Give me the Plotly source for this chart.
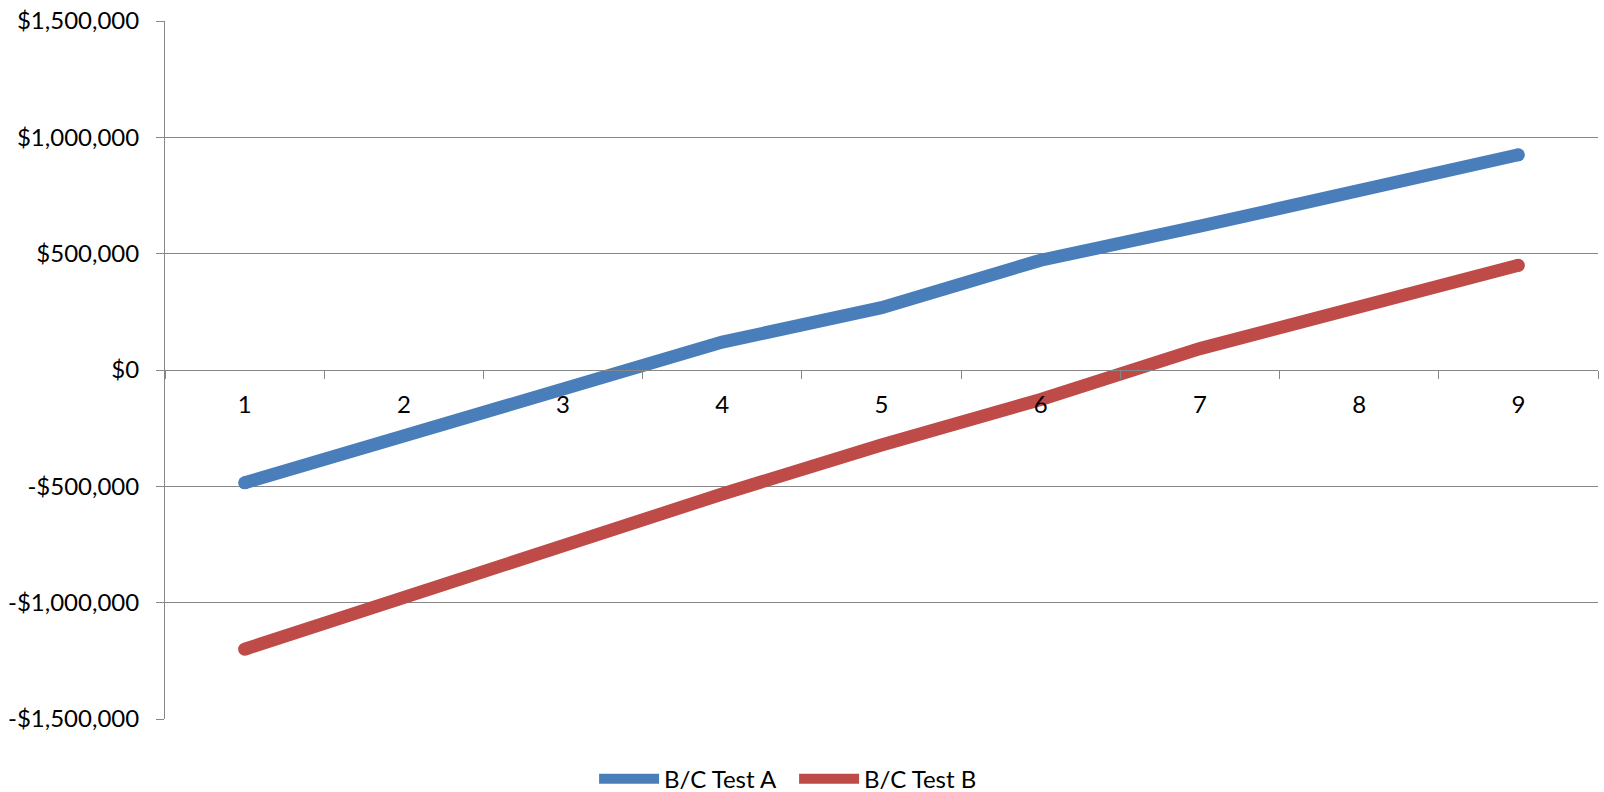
import plotly.graph_objects as go

# Period labels on the category axis
periods = ["1", "2", "3", "4", "5", "6", "7", "8", "9"]

# Cumulative benefit/cost per period, in dollars
test_a = [-485000, -285000, -92000, 120000, 268000, 472000, 618000, 768000, 925000]
test_b = [-1200000, -973000, -760000, -533000, -322000, -127000, 92000, 273000, 450000]

y_ticks = [-1500000, -1000000, -500000, 0, 500000, 1000000, 1500000]
y_tick_text = ["-$1,500,000", "-$1,000,000", "-$500,000", "$0",
               "$500,000", "$1,000,000", "$1,500,000"]

FONT = "Lato, 'Open Sans', sans-serif"
GRID = "#878787"
LW = 13

fig = go.Figure()
for name, values, color in [("B/C Test A", test_a, "#4A7EBB"),
                            ("B/C Test B", test_b, "#BE4B48")]:
    fig.add_trace(go.Scatter(
        x=periods, y=values, mode="lines", name=name,
        line=dict(color=color, width=LW),
    ))
    # round caps at both ends of the line
    fig.add_trace(go.Scatter(
        x=[periods[0], periods[-1]], y=[values[0], values[-1]],
        mode="markers", showlegend=False, hoverinfo="skip",
        marker=dict(color=color, size=LW, line=dict(width=0)),
    ))

fig.update_layout(
    width=1604, height=792,
    margin=dict(l=165, r=6, t=21, b=73, autoexpand=False),
    paper_bgcolor="white", plot_bgcolor="white",
    font=dict(family=FONT, size=24, color="black"),
    showlegend=True,
    legend=dict(
        orientation="h", x=0.439, xanchor="center", y=-0.086, yanchor="middle",
        font=dict(family=FONT, size=24, color="black"),
        itemwidth=60, tracegroupgap=0,
        entrywidth=125, entrywidthmode="pixels",
    ),
    xaxis=dict(
        type="category", range=[-0.5, 8.5],
        tickson="boundaries", ticks="outside", ticklen=8, tickcolor=GRID,
        showline=True, linecolor=GRID, linewidth=1,
        showgrid=False, zeroline=False,
        anchor="free", position=0.5,
        ticklabelstandoff=13,
    ),
    yaxis=dict(
        range=[-1500000, 1500000],
        tickvals=y_ticks, ticktext=y_tick_text,
        ticks="outside", ticklen=8, tickcolor=GRID,
        showline=True, linecolor=GRID, linewidth=1,
        showgrid=True, gridcolor=GRID, gridwidth=1,
        zeroline=False, ticklabelstandoff=12,
    ),
)

fig.write_html("out.html")
